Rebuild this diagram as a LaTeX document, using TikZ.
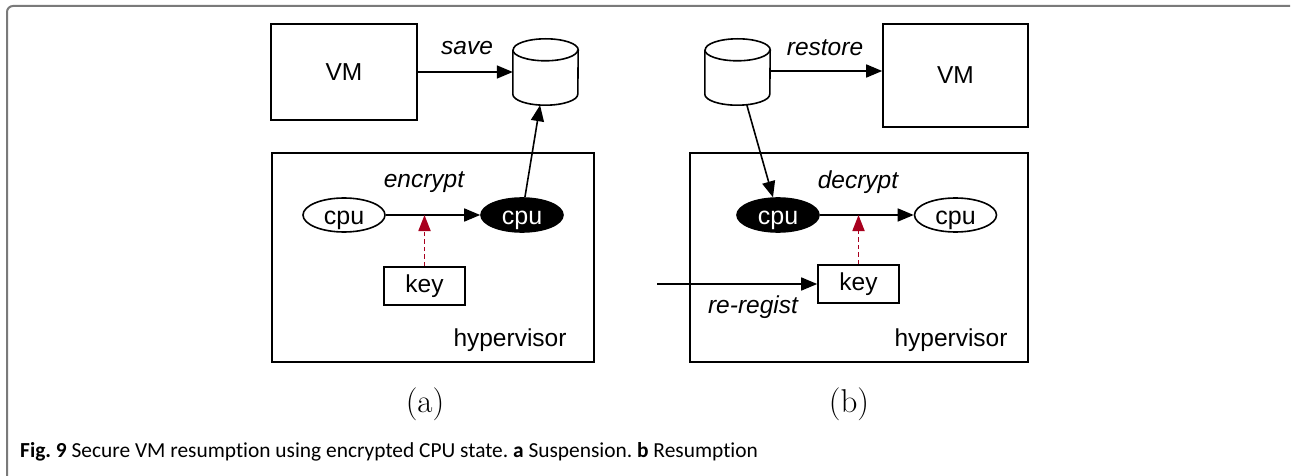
\documentclass[tikz,border=0pt]{standalone}
\usepackage{fontspec}
\usepackage{graphicx}
\setmainfont{Liberation Sans}
\newfontfamily\capfont[Ligatures=NoCommon]{Carlito}
\newfontfamily\lmfont{Latin Modern Roman}
\usetikzlibrary{arrows.meta,shapes.geometric}
\definecolor{keyred}{HTML}{A8001E}
\definecolor{framegray}{HTML}{7A7A7A}
\tikzset{
  diag/.style={font=\fontsize{24.5}{29}\selectfont},
  box/.style={draw, line width=1.6pt, inner sep=0pt},
  cpushape/.style={ellipse, draw, line width=1.6pt, minimum width=82pt, minimum height=34pt,
    inner sep=0pt, text height=19pt, text depth=0pt, font=\fontsize{25}{29}\selectfont},
  cpuwhite/.style={cpushape, fill=white},
  cpublack/.style={cpushape, fill=black, text=white},
  keybox/.style={box, minimum width=81pt, minimum height=38pt},
  store/.style={minimum width=65pt, minimum height=66pt, inner sep=0pt},
  flow/.style={line width=1.6pt, -{Triangle[length=16pt,width=13pt]}},
  keyflow/.style={draw=keyred, line width=1.8pt, dash pattern=on 4.5pt off 3pt, -{Triangle[length=16pt,width=12pt]}},
  lbl/.style={font=\fontsize{24.5}{29}\selectfont\itshape, inner sep=0pt},
  sub/.style={font=\lmfont\fontsize{33}{38}\selectfont, inner sep=0pt, anchor=base},
}
% cylinder (database) drawn around a named node
\newcommand{\drawstore}[1]{%
  \draw[line width=1.6pt, fill=white]
    ([yshift=-11pt]#1.north west) -- ([yshift=11pt]#1.south west)
    arc[start angle=180, end angle=360, x radius=32.5pt, y radius=11pt]
    -- ([yshift=-11pt]#1.north east)
    arc[start angle=0, end angle=180, x radius=32.5pt, y radius=11pt];
  \draw[line width=1.6pt]
    ([yshift=-11pt]#1.north west)
    arc[start angle=180, end angle=360, x radius=32.5pt, y radius=11pt];
}
\begin{document}
\begin{tikzpicture}[x=1pt, y=-1pt, diag]
\useasboundingbox (0,0) rectangle (1292,476);
\fill[white] (0,0) rectangle (1292,476);

% outer frame
\draw[framegray, line width=2pt] (7,476) -- (7,12) arc[start angle=180, end angle=90, radius=6pt] -- (1290,6);

% ---------- (a) suspension ----------
\node[box, minimum width=146pt, minimum height=96pt] (vmA) at (344,72) {VM};
\node[store] (cylA) at (545.5,72) {};
\drawstore{cylA}
\node[box, minimum width=322pt, minimum height=209pt] (hvA) at (433,257.5) {};
\node[cpuwhite] (cpuA1) at (344,215) {cpu};
\node[cpublack] (cpuA2) at (522,215) {cpu};
\node[keybox] (keyA) at (424.5,286) {key};

\draw[flow] (vmA) -- (cylA);
\draw[flow] (cpuA1) -- (cpuA2);
\draw[flow] (cpuA2) -- (cylA);
\draw[keyflow] (keyA.north) -- (keyA.north |- cpuA1.east);

\node[lbl] (saveA) at (467,48) {save};
\node[lbl] (encA) at (424,182) {encrypt};
\node[inner sep=0pt, anchor=base] (hvlabA) at (510,346) {hypervisor};
\node[sub] (capA) at (425,412) {(a)};

% ---------- (b) resumption ----------
\node[store] (cylB) at (737.5,72) {};
\drawstore{cylB}
\node[box, minimum width=145pt, minimum height=103pt] (vmB) at (955.5,75.5) {VM};
\node[box, minimum width=338pt, minimum height=209pt] (hvB) at (859,257.5) {};
\node[cpublack] (cpuB1) at (778,215) {cpu};
\node[cpuwhite] (cpuB2) at (955.5,215) {cpu};
\node[keybox] (keyB) at (858.5,284) {key};
\coordinate (regIn) at (657,284);

\draw[flow] (cylB.east |- 0,71) -- (vmB.west |- 0,71);
\draw[flow] (cylB) -- (cpuB1);
\draw[flow] (cpuB1) -- (cpuB2);
\draw[flow] (regIn) -- (keyB.west);
\draw[keyflow] (keyB.north) -- (keyB.north |- cpuB1.east);

\node[lbl] (restB) at (825,48) {restore};
\node[lbl] (decB) at (858,182) {decrypt};
\node[lbl] (regB) at (753,307) {re-regist};
\node[inner sep=0pt, anchor=base] (hvlabB) at (951,346) {hypervisor};
\node[sub] (capB) at (849,412) {(b)};

% caption
\node[anchor=base west, inner sep=0pt, font=\capfont\fontsize{21.4}{25}\selectfont] (caption) at (20,457)
  {\frenchspacing\textbf{Fig. 9} Secure VM resumption using encrypted CPU state. \textbf{a} Suspension. \textbf{b} Resumption};
\end{tikzpicture}
\end{document}
